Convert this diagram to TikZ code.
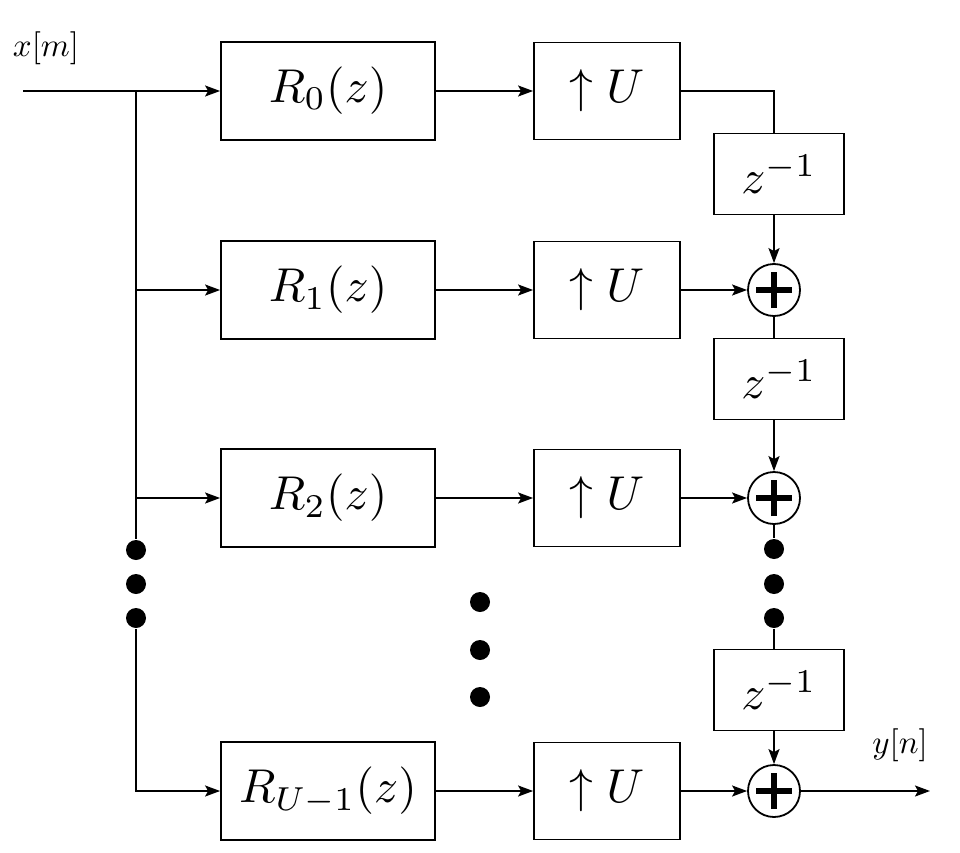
\documentclass[tikz,border=0pt]{standalone}
\usetikzlibrary{arrows.meta}
\newcommand{\BoxTxt}[1]{\scalebox{4.75}{$#1$}}
\newcommand{\LblTxt}[1]{\scalebox{3.3}{$#1$}}
\begin{document}
\begin{tikzpicture}[x=1pt,y=-1pt, line width=1.8pt,
 >={Stealth[length=15pt,width=11pt,inset=3pt]},
 blk/.style={draw, inner sep=0pt},
 rbox/.style={blk, minimum width=214pt, minimum height=98pt},
 ubox/.style={blk, minimum width=146pt, minimum height=97pt},
 zbox/.style={blk, minimum width=130pt, minimum height=81pt},
 adder/.style={draw, circle, minimum size=52pt, inner sep=0pt},
 bigdot/.style={circle, fill, minimum size=20pt, inner sep=0pt},
 lbl/.style={inner sep=0pt}]
\useasboundingbox (0,0) rectangle (960,853);

% labels
\node[lbl] (xm) at (46,48) {\LblTxt{x[m]}};
\node[lbl] (yn) at (900,745) {\LblTxt{y[n]}};

% blocks
\node[rbox] (r0) at (328,91) {\BoxTxt{R_0(z)}};
\node[rbox] (r1) at (328,290) {\BoxTxt{R_1(z)}};
\node[rbox] (r2) at (328,498) {\BoxTxt{R_2(z)}};
\node[rbox] (r3) at (328,791) {\BoxTxt{R_{U-1}(z)}};

\node[ubox] (u0) at (607,91) {\BoxTxt{\uparrow U}};
\node[ubox] (u1) at (607,290) {\BoxTxt{\uparrow U}};
\node[ubox] (u2) at (607,498) {\BoxTxt{\uparrow U}};
\node[ubox] (u3) at (607,791) {\BoxTxt{\uparrow U}};

\node[zbox] (z1) at (779,174) {\BoxTxt{z^{-1}}};
\node[zbox] (z2) at (779,379) {\BoxTxt{z^{-1}}};
\node[zbox] (z3) at (779,690) {\BoxTxt{z^{-1}}};

\node[adder] (a1) at (774,290) {};
\node[adder] (a2) at (774,498) {};
\node[adder] (a3) at (774,791) {};
\foreach \a in {a1,a2,a3} {
  \draw[line width=5.5pt] ([xshift=-18pt]\a.center) -- ([xshift=18pt]\a.center);
  \draw[line width=5.5pt] ([yshift=-18pt]\a.center) -- ([yshift=18pt]\a.center);
}

% dots
\node[bigdot] (ld1) at (136,550) {};
\node[bigdot] (ld2) at (136,584) {};
\node[bigdot] (ld3) at (136,618) {};
\node[bigdot] (md1) at (480,602) {};
\node[bigdot] (md2) at (480,650) {};
\node[bigdot] (md3) at (480,697) {};
\node[bigdot] (rd1) at (774,549) {};
\node[bigdot] (rd2) at (774,584) {};
\node[bigdot] (rd3) at (774,618) {};

% coordinates
\coordinate (in) at (23,91);
\coordinate (b0) at (136,91);
\coordinate (out) at (930,791);

% connectors
\draw[->] (in) -- (r0.west);
\draw (b0) -- (ld1);
\draw[->] (b0 |- r1) -- (r1.west);
\draw[->] (b0 |- r2) -- (r2.west);
\draw[->] (ld3) |- (r3.west);

\draw[->] (r0.east) -- (u0.west);
\draw[->] (r1.east) -- (u1.west);
\draw[->] (r2.east) -- (u2.west);
\draw[->] (r3.east) -- (u3.west);

\draw (u0.east) -| (z1.north -| a1);
\draw[->] (z1.south -| a1) -- (a1.north);
\draw[->] (u1.east) -- (a1.west);
\draw (a1.south) -- (z2.north -| a1);
\draw[->] (z2.south -| a1) -- (a2.north);
\draw[->] (u2.east) -- (a2.west);
\draw (a2.south) -- (rd1);
\draw (rd3) -- (z3.north -| a1);
\draw[->] (z3.south -| a1) -- (a3.north);
\draw[->] (u3.east) -- (a3.west);
\draw[->] (a3.east) -- (out);
\end{tikzpicture}
\end{document}
